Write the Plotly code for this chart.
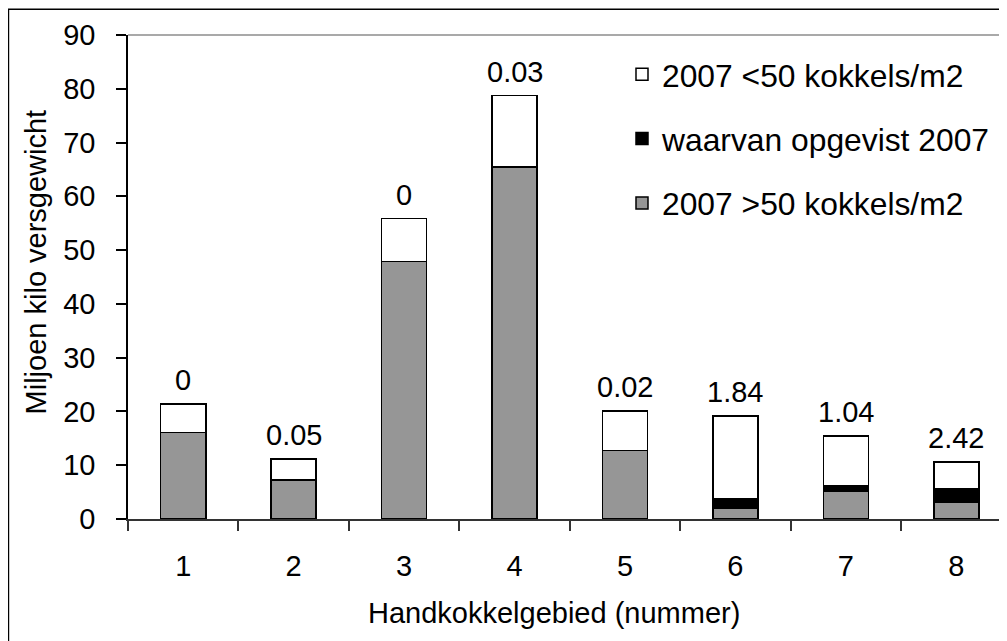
import plotly.graph_objects as go

categories = ["1", "2", "3", "4", "5", "6", "7", "8"]
gray_vals = [16.1, 7.2, 47.9, 65.4, 12.7, 2.0, 5.2, 3.15]      # 2007 >50 kokkels/m2
black_vals = [0, 0.05, 0, 0.03, 0.02, 1.84, 1.04, 2.42]          # waarvan opgevist 2007
white_vals = [5.25, 3.9, 7.95, 13.32, 7.38, 15.36, 9.21, 5.03]   # 2007 <50 kokkels/m2
y_ticks = [0, 10, 20, 30, 40, 50, 60, 70, 80, 90]

FONT = "Liberation Sans, Arial, sans-serif"
OFF = 8  # default body margin of the html page
W, H = 1007 - OFF, 641 - OFF
L, T, B, R = 128.3 - OFF, 34.5 - OFF, 122, 0
pw = W - L - R
ph = H - T - B
BASE = 519 - OFF  # pixel of y=0 in figure coords

line = dict(color="black", width=1.5)
fig = go.Figure()
fig.add_trace(go.Bar(x=categories, y=gray_vals, name="2007 >50 kokkels/m2",
                     marker=dict(color="#969696", line=line), legendgroup="g", legendrank=3))
fig.add_trace(go.Bar(x=categories, y=black_vals, name="waarvan opgevist 2007",
                     marker=dict(color="black", line=line), legendgroup="b", legendrank=2))
fig.add_trace(go.Bar(x=categories, y=white_vals, name="2007 <50 kokkels/m2",
                     marker=dict(color="white", line=line), legendgroup="w", legendrank=1))

annotations = []
for i, (g, b, w) in enumerate(zip(gray_vals, black_vals, white_vals)):
    annotations.append(dict(x=i, y=g + b + w, xref="x", yref="y", text=f"{b:g}",
                            showarrow=False, yanchor="bottom", yshift=6,
                            font=dict(size=29, color="black", family=FONT)))

annotations.append(dict(text="Miljoen kilo versgewicht", xref="paper", yref="paper",
                        x=(36 - OFF - L) / pw, y=(BASE - (261.5 - OFF)) / ph, textangle=-90,
                        showarrow=False, xanchor="center", yanchor="middle",
                        font=dict(size=29, color="black", family=FONT)))
annotations.append(dict(text="Handkokkelgebied (nummer)", xref="paper", yref="paper",
                        x=(554 - OFF - L) / pw, y=-(613 - 519) / ph,
                        showarrow=False, xanchor="center", yanchor="middle",
                        font=dict(size=29, color="black", family=FONT)))

shapes = [
    dict(type="line", xref="paper", yref="paper", x0=0, x1=1, y0=1, y1=1,
         line=dict(color="#8c8c8c", width=1.5)),
    dict(type="rect", xref="paper", yref="paper",
         x0=(0.8 - L) / pw, x1=1.05, y0=-0.4, y1=1 + (T - 0.8) / ph,
         line=dict(color="black", width=1.5), fillcolor="rgba(0,0,0,0)"),
]

fig.update_layout(
    width=W, height=H,
    margin=dict(l=L, r=R, t=T, b=B, pad=0),
    barmode="stack", bargap=0.592,
    paper_bgcolor="white", plot_bgcolor="white",
    font=dict(family=FONT, size=29, color="black"),
    showlegend=True,
    legend=dict(x=0.562, y=0.975, xanchor="left", yanchor="top",
                traceorder="grouped", tracegroupgap=20,
                font=dict(size=31.8, family=FONT, color="black"),
                bgcolor="rgba(0,0,0,0)"),
    annotations=annotations,
    shapes=shapes,
)
fig.update_xaxes(type="category", range=[-0.5, -0.5 + pw / 110.4],
                 showline=True, linecolor="#333333", linewidth=1.5,
                 ticks="outside", ticklen=10, tickcolor="#333333", tickwidth=1.5,
                 tickson="boundaries", showgrid=False, zeroline=False,
                 ticklabelstandoff=20, automargin=False,
                 tickfont=dict(size=29, family=FONT, color="black"))
fig.update_yaxes(range=[0, 90], tickvals=y_ticks,
                 showline=True, linecolor="black", linewidth=1.5,
                 ticks="outside", ticklen=10, tickcolor="black", tickwidth=1.5,
                 showgrid=False, zeroline=False, ticklabelstandoff=15, automargin=False,
                 tickfont=dict(size=29, family=FONT, color="black"))

fig.write_html("out.html")
